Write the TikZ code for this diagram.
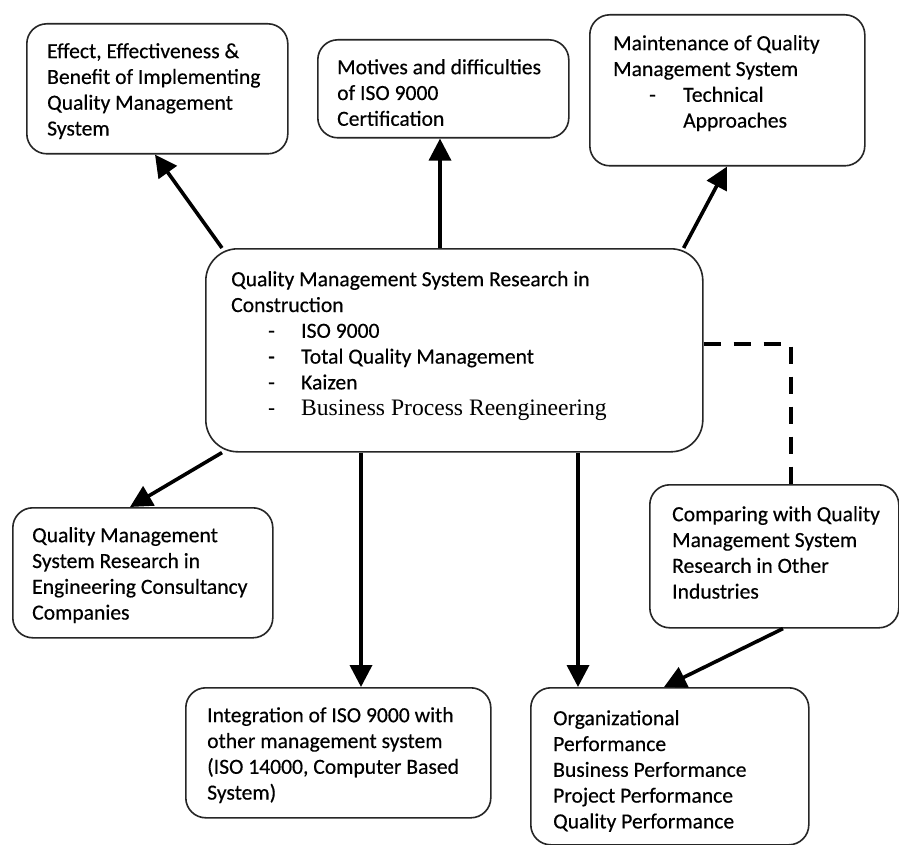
\documentclass[tikz,border=0pt]{standalone}
\usepackage{fontspec}
\setmainfont[FakeBold=0.4]{Carlito}
\newfontfamily\serifbpr{Liberation Serif}
\usetikzlibrary{arrows.meta,calc}

\tikzset{
  box/.style={draw=black!85, line width=1.6pt, rounded corners=20pt, anchor=north west, inner sep=0pt},
  bigbox/.style={box, rounded corners=32pt},
  txt/.style={anchor=north west, inner sep=0pt, align=left,
              font=\fontsize{21.6}{25.8}\selectfont, execute at begin node=\strut},
  arr/.style={line width=3.6pt, -{Triangle[length=22pt,width=22pt]}},
  dashlink/.style={line width=4.6pt, dash pattern=on 17pt off 13pt}
}
\newcommand{\itm}[1]{\makebox[33pt][l]{-}#1}

\begin{document}
\begin{tikzpicture}[x=1pt,y=-1pt]
\useasboundingbox[fill=white] (0,0) rectangle (899,845);

% boxes
\node[box, minimum width=261pt, minimum height=130pt] (b1) at (26,23) {};
\node[box, minimum width=251pt, minimum height=98pt]  (b2) at (317,39) {};
\node[box, minimum width=275pt, minimum height=151pt] (b3) at (589,14) {};
\node[bigbox, minimum width=497pt, minimum height=203pt] (bc) at (205,248) {};
\node[box, minimum width=260pt, minimum height=130pt] (b5) at (12,507) {};
\node[box, minimum width=249pt, minimum height=143pt] (b6) at (649,484) {};
\node[box, minimum width=305pt, minimum height=130pt] (b7) at (185,687) {};
\node[box, minimum width=278pt, minimum height=157pt] (b8) at (530,687) {};

% texts, placed by the top of the first line's strut
\node[txt] (t1) at (47,43) {Effect, Effectiveness \&\\Benefit of Implementing\\Quality Management\\System};
\node[txt] (t2) at (337,59) {Motives and difficulties\\of ISO 9000\\Certification};
\node[txt] (t3) at (613,35) {Maintenance of Quality\\Management System\\\hspace*{36pt}\makebox[34pt][l]{-}Technical\\\hspace*{70pt}Approaches};
\node[txt] (tc) at (231,271) {Quality Management System Research in\\Construction\\
  \hspace*{37pt}\itm{ISO 9000}\\
  \hspace*{37pt}\itm{Total Quality Management}\\
  \hspace*{37pt}\itm{Kaizen}\\
  \hspace*{37pt}\makebox[33pt][l]{-}{\serifbpr\fontsize{23.6}{25.8}\selectfont Business Process Reengineering}};
\node[txt] (t5) at (32,527) {Quality Management\\System Research in\\Engineering Consultancy\\Companies};
\node[txt] (t6) at (672,506) {Comparing with Quality\\Management System\\Research in Other\\Industries};
\node[txt] (t7) at (207,707) {Integration of ISO 9000 with\\other management system\\(ISO 14000, Computer Based\\System)};
\node[txt] (t8) at (553,710) {Organizational\\Performance\\Business Performance\\Project Performance\\Quality Performance};

% connectors
\draw[arr] ([xshift=17pt]bc.north west) -- ([xshift=129pt]b1.south west);
\draw[arr] ([xshift=123pt]b2.south west |- bc.north) -- ([xshift=123pt]b2.south west);
\draw[arr] ([xshift=-20pt]bc.north east) -- ([xshift=138pt]b3.south west);
\draw[arr] ([xshift=17pt]bc.south west) -- ([xshift=118pt]b5.north west);
\draw[arr] ([xshift=176pt]b7.north west |- bc.south) -- ([xshift=176pt]b7.north west);
\draw[arr] ([xshift=48pt]b8.north west |- bc.south) -- ([xshift=48pt]b8.north west);
\draw[arr] ([xshift=134pt]b6.south west) -- ([xshift=134pt]b8.north west);
\draw[dashlink] ([yshift=-96pt]bc.north east) -| ([xshift=142pt]b6.north west);
\end{tikzpicture}
\end{document}
